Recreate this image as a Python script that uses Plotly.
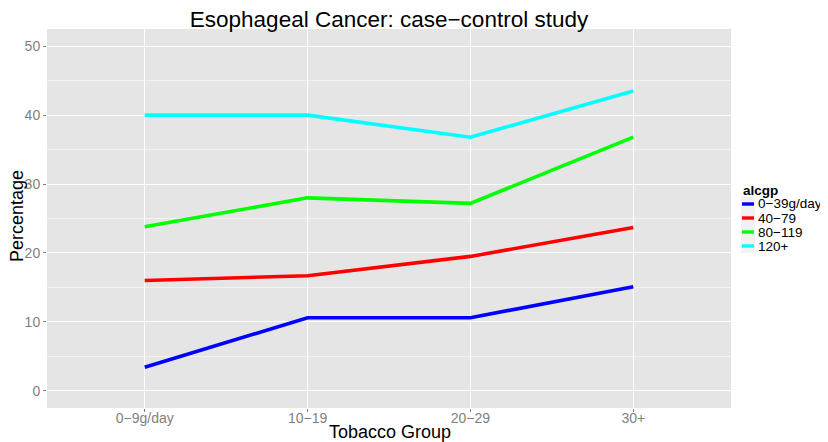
import plotly.graph_objects as go

tobacco = ["0\u22129g/day", "10\u221219", "20\u221229", "30+"]
alc_groups = ["0\u221239g/day", "40\u221279", "80\u2212119", "120+"]
pct_0_39 = [3.4, 10.6, 10.6, 15.1]
pct_40_79 = [16.0, 16.7, 19.5, 23.7]
pct_80_119 = [23.8, 28.0, 27.2, 36.8]
pct_120 = [40.0, 40.0, 36.8, 43.5]
colors = ["#0000FF", "#FF0000", "#00FF00", "#00FFFF"]
series = [pct_0_39, pct_40_79, pct_80_119, pct_120]

# page body has an 8px margin; lay the figure out in window pixels
OFF = 8
WIN_W, WIN_H = 828, 442
L, R, T, B = 47, 97, 29, 34  # panel position in window pixels
W, H = WIN_W - OFF, WIN_H - OFF
pw, ph = WIN_W - L - R, WIN_H - T - B


def px_x(p):
    return (p - L) / pw


def px_y(p):
    return (WIN_H - B - p) / ph


font = "Liberation Sans, Arial, Helvetica, sans-serif"

fig = go.Figure()
for name, vals, col in zip(alc_groups, series, colors):
    fig.add_trace(go.Scatter(x=tobacco, y=vals, mode="lines", name=name,
                             line=dict(color=col, width=3.6), showlegend=False))

# ggplot-like legend
annotations = [dict(text="<b>alcgp</b>", x=px_x(741), y=px_y(190), xref="paper", yref="paper",
                    xanchor="left", yanchor="middle", showarrow=False,
                    font=dict(family=font, size=13.5, color="black"))]
shapes = []
for i, (name, col) in enumerate(zip(alc_groups, colors)):
    cy = 204 + 14 * i
    shapes.append(dict(type="rect", xref="paper", yref="paper",
                       x0=px_x(741), x1=px_x(755), y0=px_y(cy - 7), y1=px_y(cy + 7),
                       fillcolor="#F2F2F2", line=dict(width=0), layer="below"))
    shapes.append(dict(type="line", xref="paper", yref="paper",
                       x0=px_x(742), x1=px_x(754), y0=px_y(cy), y1=px_y(cy),
                       line=dict(color=col, width=3.4)))
    annotations.append(dict(text=name, x=px_x(756), y=px_y(cy), xref="paper", yref="paper",
                            xanchor="left", yanchor="middle", showarrow=False,
                            font=dict(family=font, size=13.5, color="black")))

# axis titles
annotations.append(dict(text="Tobacco Group", x=px_x(390), y=px_y(432), xref="paper", yref="paper",
                        xanchor="center", yanchor="middle", showarrow=False,
                        font=dict(family=font, size=18, color="black")))
annotations.append(dict(text="Percentage", x=px_x(17), y=px_y(216), xref="paper", yref="paper",
                        xanchor="center", yanchor="middle", showarrow=False, textangle=-90,
                        font=dict(family=font, size=18, color="black")))

fig.update_layout(
    width=W, height=H,
    margin=dict(l=L - OFF, r=R, t=T - OFF, b=B, pad=0),
    paper_bgcolor="white", plot_bgcolor="#E5E5E5",
    font=dict(family=font, color="black"),
    title=dict(text="Esophageal Cancer: case\u2212control study", x=px_x(389), xref="paper",
               xanchor="center", y=1 - (19 - OFF) / H, yanchor="middle",
               font=dict(size=22.5, color="black")),
    xaxis=dict(range=[-0.6, 3.6], showgrid=True, gridcolor="white", gridwidth=1.1,
               ticks="outside", ticklen=3, tickcolor="#7F7F7F", tickwidth=1,
               ticklabelstandoff=-6,
               tickfont=dict(size=14, color="#7F7F7F"), zeroline=False, showline=False,
               automargin=False),
    yaxis=dict(range=[-2.5, 52.5], tickvals=[0, 10, 20, 30, 40, 50], showgrid=True,
               gridcolor="white", gridwidth=1.1,
               minor=dict(tickvals=[5, 15, 25, 35, 45], showgrid=True, gridcolor="#F2F2F2",
                          gridwidth=0.6, ticks=""),
               ticks="outside", ticklen=3, tickcolor="#7F7F7F", tickwidth=1,
               tickfont=dict(size=14, color="#7F7F7F"), zeroline=False, showline=False,
               automargin=False),
    annotations=annotations, shapes=shapes,
)

fig.write_html("out.html")
